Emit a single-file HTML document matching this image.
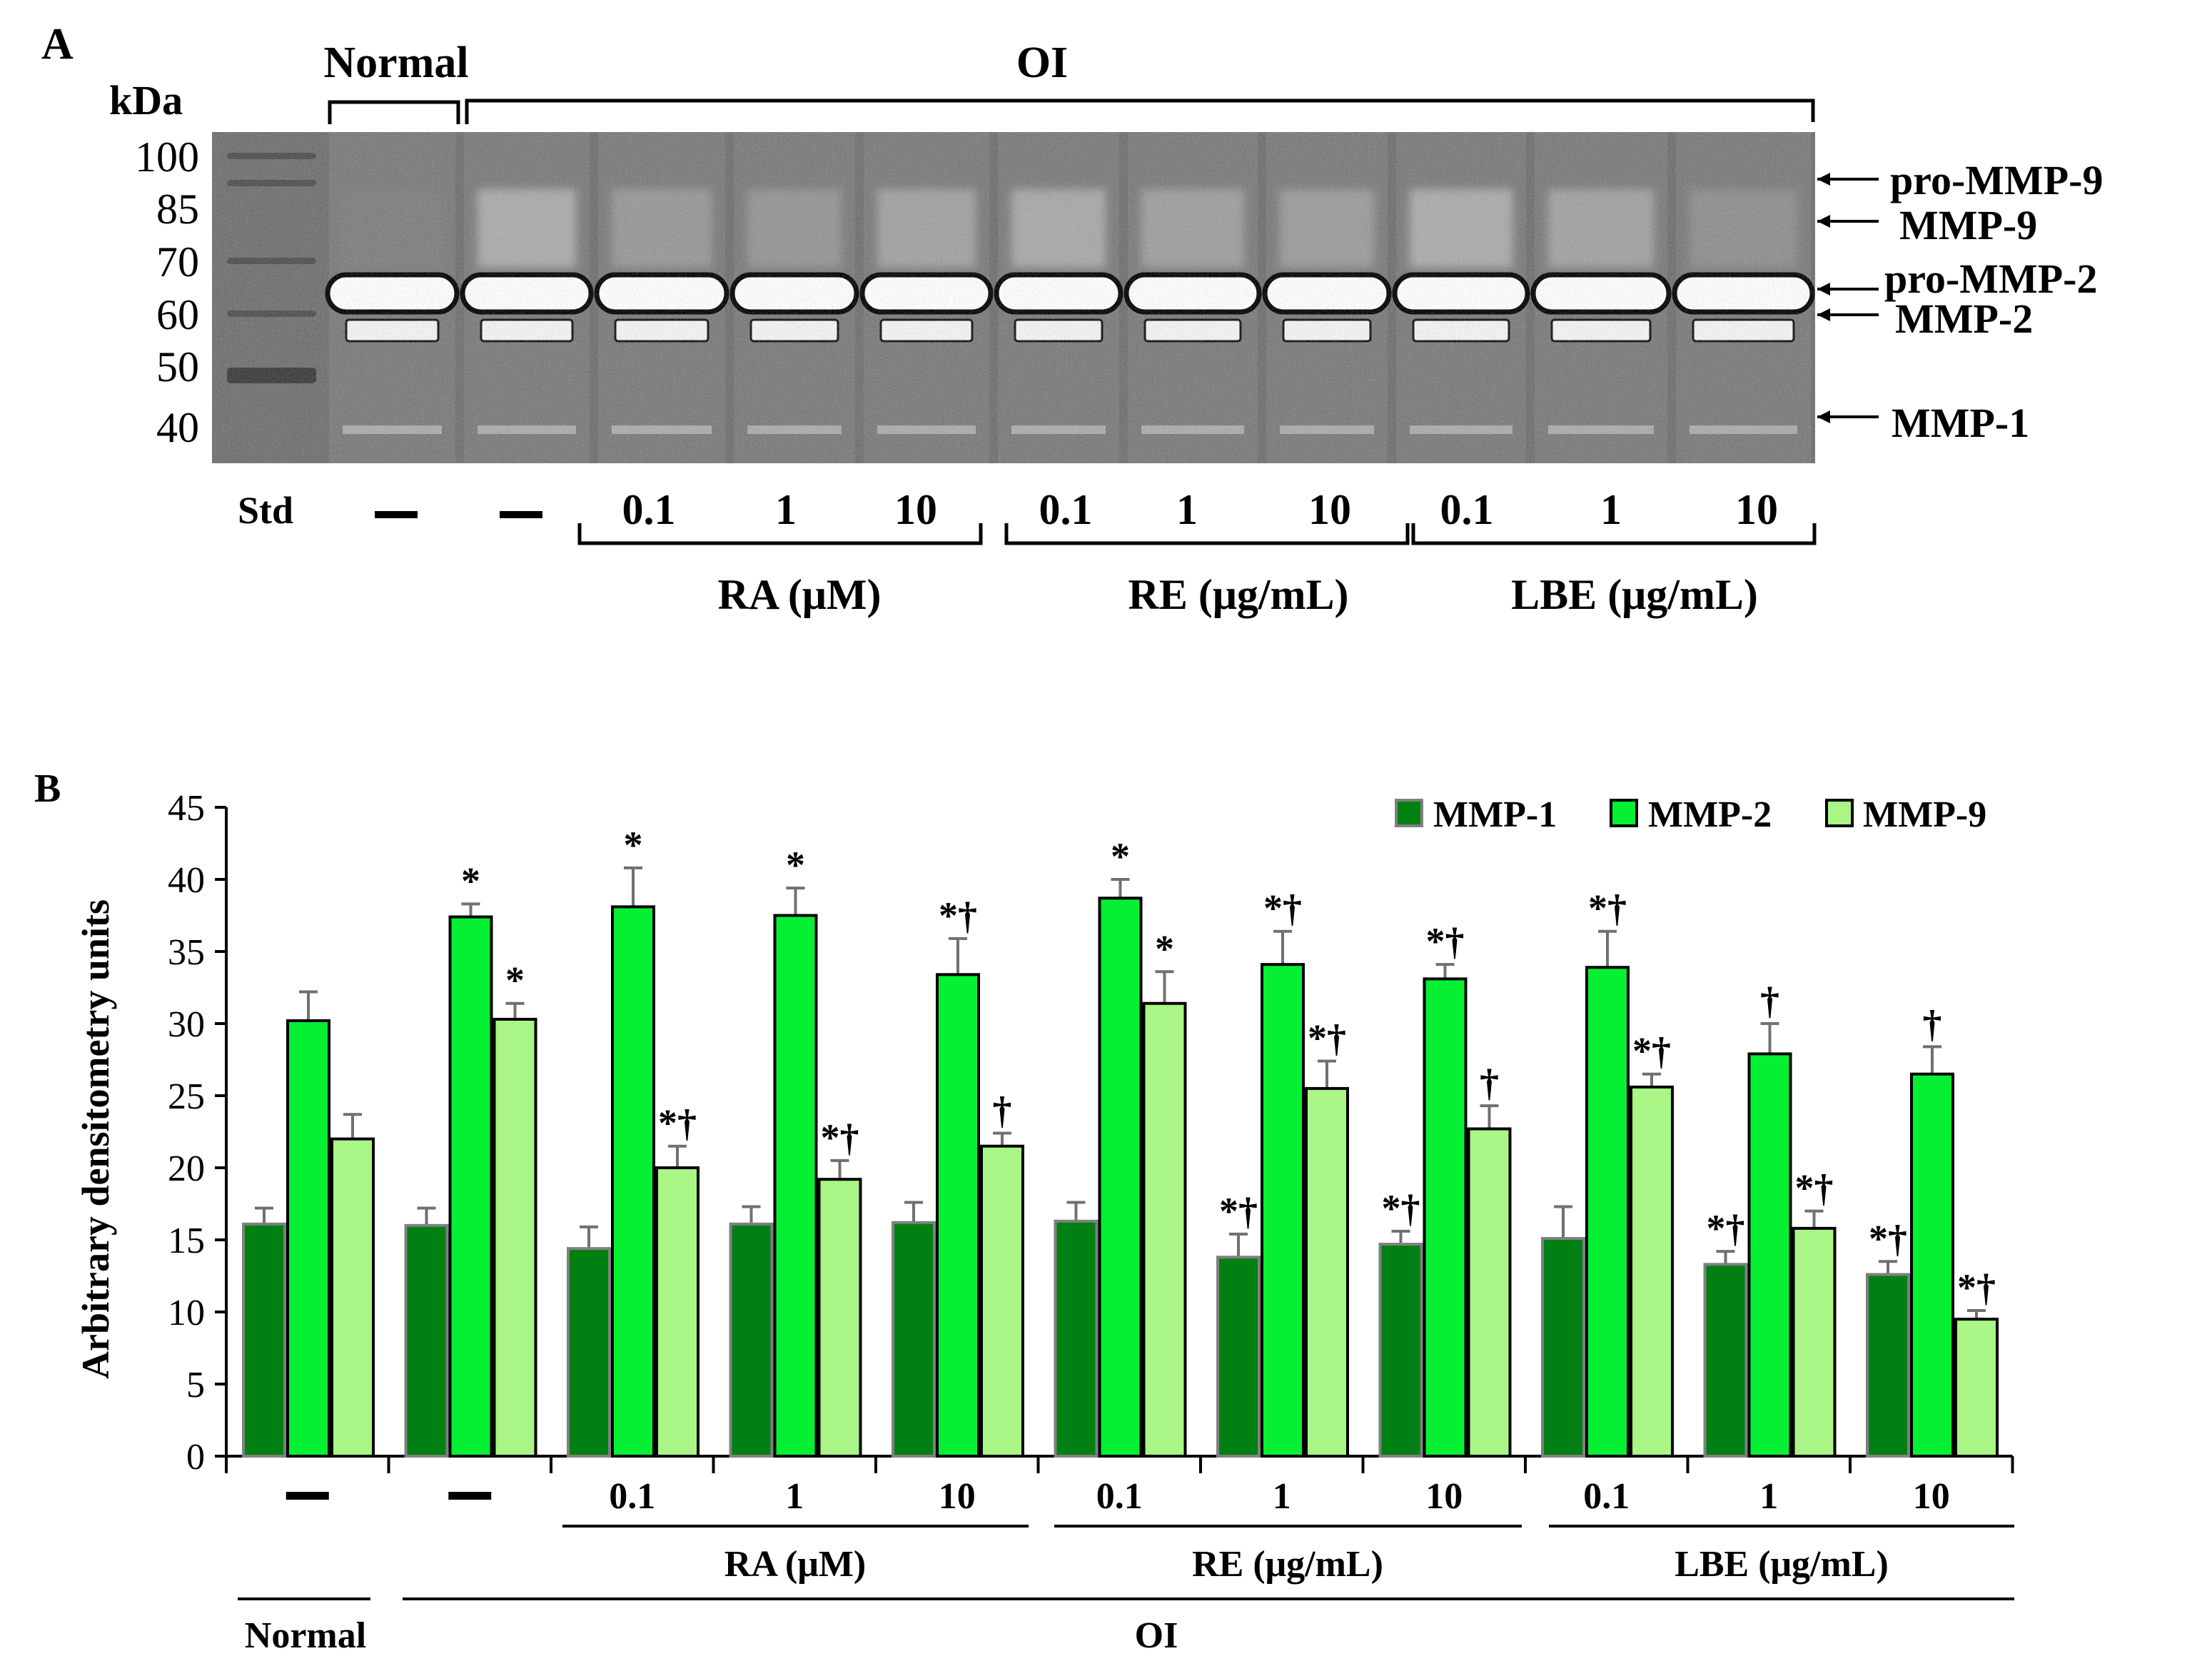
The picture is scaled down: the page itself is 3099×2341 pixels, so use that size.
<!DOCTYPE html>
<html><head><meta charset="utf-8"><style>
html,body{margin:0;padding:0;background:#fff;}
svg{display:block;}
text{font-family:"Liberation Serif",serif;fill:#000;}
</style></head><body>
<svg id="fig" width="3099" height="2341" viewBox="0 0 3099 2341" xmlns="http://www.w3.org/2000/svg">
<defs>
<filter id="noise" x="0" y="0" width="100%" height="100%"><feTurbulence type="fractalNoise" baseFrequency="0.35" numOctaves="2" seed="3"/><feColorMatrix type="saturate" values="0"/><feComponentTransfer><feFuncA type="linear" slope="0.25"/></feComponentTransfer><feComposite in2="SourceGraphic" operator="in"/></filter>
<filter id="blur"><feGaussianBlur stdDeviation="6"/></filter>
</defs>
<g>
<text x="58" y="82" font-size="62" font-weight="bold">A</text>
<text x="153" y="160" font-size="58" font-weight="bold">kDa</text>
<text x="555" y="108" font-size="62" font-weight="bold" text-anchor="middle">Normal</text>
<text x="1460" y="108" font-size="62" font-weight="bold" text-anchor="middle">OI</text>
<path d="M462 174 V143 H642 V174 M654 174 V141 H2540 V171" fill="none" stroke="#000" stroke-width="5"/>
<g>
<rect x="297" y="185" width="2246" height="464" fill="#6f6f6f"/>
<g id="lanes"></g>
<rect x="297" y="185" width="2246" height="464" fill="#888" filter="url(#noise)" opacity="0.9"/>
</g>
<g font-size="60" text-anchor="end">
<text x="279" y="240">100</text><text x="279" y="313">85</text><text x="279" y="387">70</text><text x="279" y="461">60</text><text x="279" y="534">50</text><text x="279" y="619">40</text>
</g>
<g font-size="58" font-weight="bold">
<path d="M2546 251 H2632 M2546 310 H2632 M2546 405 H2632 M2546 441 H2632 M2546 584 H2632" stroke="#000" stroke-width="4"/>
<path d="M2546 251 l18 -9 v18z M2546 310 l18 -9 v18z M2546 405 l18 -9 v18z M2546 441 l18 -9 v18z M2546 584 l18 -9 v18z" fill="#000"/>
<text x="2648" y="272">pro-MMP-9</text>
<text x="2661" y="335">MMP-9</text>
<text x="2640" y="410">pro-MMP-2</text>
<text x="2655" y="466">MMP-2</text>
<text x="2650" y="612">MMP-1</text>
</g>
<g font-size="60" font-weight="bold" text-anchor="middle">
<text x="372" y="733" font-size="54">Std</text>
<rect x="525" y="716" width="60" height="10" fill="#000"/>
<rect x="700" y="716" width="60" height="10" fill="#000"/>
<text x="909" y="734">0.1</text><text x="1101" y="734">1</text><text x="1283" y="734">10</text>
<text x="1493" y="734">0.1</text><text x="1663" y="734">1</text><text x="1863" y="734">10</text>
<text x="2055" y="734">0.1</text><text x="2257" y="734">1</text><text x="2461" y="734">10</text>
<path d="M812 733 V761 H1374 V733 M1410 733 V761 H1972 V733 M1980 733 V761 H2542 V733" fill="none" stroke="#000" stroke-width="5"/>
<text x="1120" y="853">RA (μM)</text>
<text x="1735" y="853">RE (μg/mL)</text>
<text x="2290" y="853">LBE (μg/mL)</text>
</g>
</g>
<g>
<text x="48" y="1123" font-size="56" font-weight="bold">B</text>
<text transform="translate(152,1596) rotate(-90)" font-size="54" font-weight="bold" text-anchor="middle">Arbitrary densitometry units</text>
<g id="axes"></g>
<g id="bars"></g>
<g font-size="52" font-weight="bold">
<g><rect x="1956" y="1121" width="36" height="36" fill="#008012" stroke="#808080" stroke-width="4"/><text x="2008" y="1158">MMP-1</text></g>
<g><rect x="2257" y="1121" width="36" height="36" fill="#05f032" stroke="#000" stroke-width="4"/><text x="2309" y="1158">MMP-2</text></g>
<g><rect x="2559" y="1121" width="36" height="36" fill="#a9f585" stroke="#000" stroke-width="4"/><text x="2610" y="1158">MMP-9</text></g>
</g>
<g font-size="52" font-weight="bold" text-anchor="middle">
<path d="M788 2138 H1441 M1477 2138 H2132 M2170 2138 H2822 M333 2240 H519 M564 2240 H2822" stroke="#000" stroke-width="4"/>
<text x="1114" y="2208">RA (μM)</text>
<text x="1804" y="2208">RE (μg/mL)</text>
<text x="2496" y="2208">LBE (μg/mL)</text>
<text x="428" y="2308">Normal</text>
<text x="1620" y="2308">OI</text>
</g>
</g>
</svg>
<script>
var categories = ["—","—","0.1","1","10","0.1","1","10","0.1","1","10"];
var mmp1 = [16.1,16.0,14.4,16.1,16.2,16.3,13.8,14.7,15.1,13.3,12.6];
var mmp1Err = [17.2,17.2,15.9,17.3,17.6,17.6,15.4,15.6,17.3,14.2,13.5];
var mmp2 = [30.2,37.4,38.1,37.5,33.4,38.7,34.1,33.1,33.9,27.9,26.5];
var mmp2Err = [32.2,38.3,40.8,39.4,35.9,40.0,36.4,34.1,36.4,30.0,28.4];
var mmp9 = [22.0,30.3,20.0,19.2,21.5,31.4,25.5,22.7,25.6,15.8,9.5];
var mmp9Err = [23.7,31.4,21.5,20.5,22.4,33.6,27.4,24.3,26.5,17.0,10.1];
var mmp1Sig = ["","","","","","","*†","*†","","*†","*†"];
var mmp2Sig = ["","*","*","*","*†","*","*†","*†","*†","†","†"];
var mmp9Sig = ["","*","*†","*†","†","*","*†","†","*†","*†","*†"];
var yTicks = [0,5,10,15,20,25,30,35,40,45];

(function(){
var NS = "http://www.w3.org/2000/svg";
var X0 = 317, GW = 227.5, Y0 = 2040, PPU = 909/45, BW = 62, OFF = 22;
function yS(v){ return Y0 - v*PPU; }
function xG(i){ return X0 + i*GW; }
function mk(tag, attrs, parent){ var e=document.createElementNS(NS,tag); for(var k in attrs) e.setAttribute(k, attrs[k]); parent.appendChild(e); return e; }

var lanesG = document.getElementById('lanes');
var laneEdges = [455,644,832,1022,1204,1392,1574,1768,1950,2144,2342,2543];
var haze = [0.55,0.05,0.75,0.45,0.4,0.6,0.7,0.55,0.5,0.75,0.6,0.3];
for (var L=0; L<laneEdges.length-1; L++){
  var a=laneEdges[L], b=laneEdges[L+1], w=b-a;
  var lane = mk('g',{},lanesG);
  
  
  mk('rect',{x:a+6,y:185,width:w-12,height:464,fill:'#7a7a7a'},lane);
  var h = haze[L+1] || 0.5;
  mk('rect',{x:a+25,y:265,width:w-50,height:110,fill:'#d8d8d8',opacity:h*0.7,filter:'url(#blur)'},lane);
  mk('rect',{x:a+30,y:448,width:w-60,height:30,rx:4,fill:'#f4f4f4',stroke:'#111','stroke-width':3},lane);
  mk('rect',{x:a+25,y:596,width:w-50,height:12,fill:'#b8b8b8',opacity:0.8},lane);
  mk('rect',{x:a+4,y:385,width:w-8,height:52,rx:26,fill:'#fff',stroke:'#000','stroke-width':7},lane);
}
var stdY=[219,257,366,440,520];
for (var s=0;s<stdY.length;s++){
  var sb = mk('rect',{x:318,y:stdY[s]-5,width:125,height:s==4?22:9,rx:5,fill:s==4?'#3a3a3a':'#4e4e4e'},lanesG);
  
  
}

var axes = document.getElementById('axes');
var yAxis = mk('line',{x1:X0,y1:yS(45),x2:X0,y2:Y0,stroke:'#000','stroke-width':4},axes);


var xAxis = mk('line',{x1:X0,y1:Y0,x2:xG(categories.length),y2:Y0,stroke:'#000','stroke-width':4},axes);


for (var t=0;t<yTicks.length;t++){
  var yy=yS(yTicks[t]);
  mk('line',{x1:X0-16,y1:yy,x2:X0,y2:yy,stroke:'#000','stroke-width':4},axes);
  var tl = mk('text',{x:X0-30,y:yy+18,'font-size':52,'text-anchor':'end'},axes);
  tl.textContent = yTicks[t];
  
  
}
for (var i=0;i<=categories.length;i++){
  mk('line',{x1:xG(i),y1:Y0,x2:xG(i),y2:Y0+24,stroke:'#000','stroke-width':4},axes);
}
for (var i=0;i<categories.length;i++){
  var cx = xG(i)+GW/2;
  if (categories[i]==="—"){
    var d = mk('rect',{x:cx-30,y:2090,width:60,height:11,fill:'#000'},axes);
    
    
  } else {
    var xl = mk('text',{x:cx,y:2113,'font-size':52,'font-weight':'bold','text-anchor':'middle'},axes);
    xl.textContent = categories[i];
    
    
  }
}

var barsG = document.getElementById('bars');
var series = [
  {v:mmp1,e:mmp1Err,s:mmp1Sig,fill:'#008012',stroke:'#808080',name:'mmp1'},
  {v:mmp2,e:mmp2Err,s:mmp2Sig,fill:'#05f032',stroke:'#000',name:'mmp2'},
  {v:mmp9,e:mmp9Err,s:mmp9Sig,fill:'#a9f585',stroke:'#000',name:'mmp9'}
];
for (var i=0;i<categories.length;i++){
  for (var k=0;k<series.length;k++){
    var S=series[k];
    var bx = xG(i)+OFF+k*BW;
    var barTop = yS(S.v[i]), errTop = yS(S.e[i]);
    var bcx = bx+BW/2;
    var eb = mk('path',{d:'M'+bcx+' '+barTop+' V'+errTop+' M'+(bcx-13)+' '+errTop+' H'+(bcx+13),stroke:'#707070','stroke-width':4,fill:'none'},barsG);
    
    
    var r = mk('rect',{x:bx+2,y:barTop,width:BW-4,height:Y0-barTop,fill:S.fill,stroke:S.stroke,'stroke-width':4},barsG);
    
    
    if (S.s[i]){
      var st = mk('text',{x:bcx,y:errTop-14,'font-size':54,'font-weight':'bold','text-anchor':'middle'},barsG);
      st.textContent = S.s[i];
      
      
    }
  }
}
})();
</script>
</body></html>
